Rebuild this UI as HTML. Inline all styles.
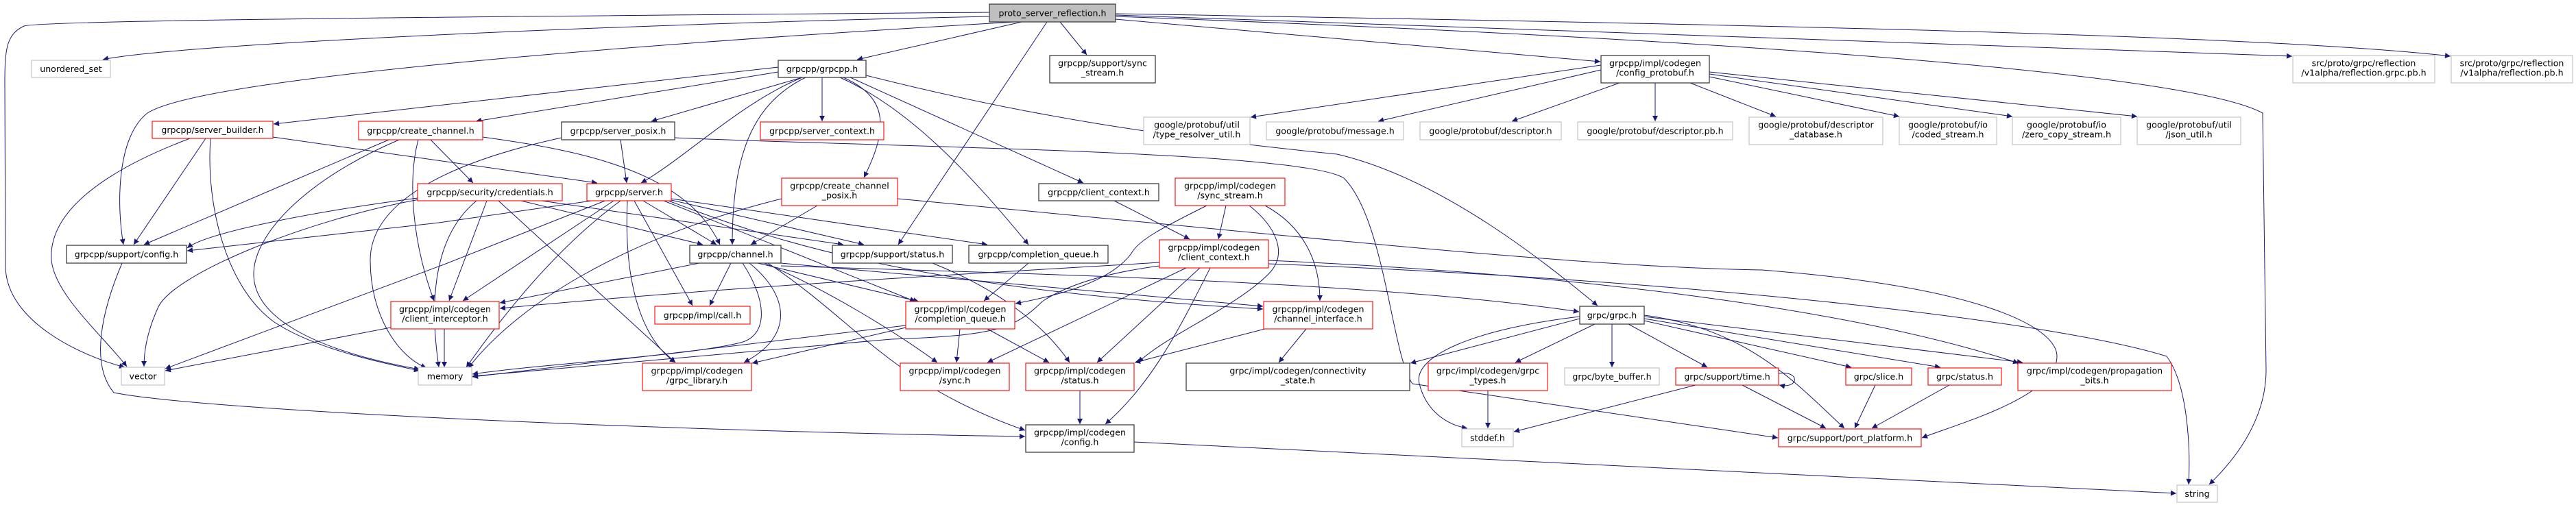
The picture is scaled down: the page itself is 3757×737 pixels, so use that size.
<!DOCTYPE html>
<html><head><meta charset="utf-8">
<style>
html,body{margin:0;padding:0;background:#fff;}
svg{display:block;}
text{font-family:"DejaVu Sans","Liberation Sans",sans-serif;font-size:12.6px;fill:#000;text-anchor:middle;}
.d{fill:#fff;stroke:#404040;stroke-width:1.3;}
.r{fill:#fff;stroke:#ff0000;stroke-width:1.1;}
.g{fill:#fff;stroke:#bfbfbf;stroke-width:1.1;}
.p{fill:#bfbfbf;stroke:#404040;stroke-width:1.3;}
.e path{fill:none;stroke:#191970;stroke-width:1;marker-end:url(#a);}
</style></head><body>
<svg width="3757" height="737" viewBox="0 0 3757 737" xmlns="http://www.w3.org/2000/svg">
<defs><marker id="a" viewBox="0 0 10 10" refX="10" refY="5" markerWidth="10" markerHeight="8" markerUnits="userSpaceOnUse" orient="auto"><path d="M0,0 L10,5 L0,10 z" fill="#191970"/></marker></defs>
<g class="e">
<path d="M1443,18 C600,25 60,30 35,38 C10,50 7,70 7,120 L8,390 C10,470 120,520 182,536"/>
<path d="M1443,24 C900,35 250,65 150,87"/>
<path d="M1480,32 C1000,60 300,110 215,165 C170,200 170,300 180,357"/>
<path d="M1490,32 L1250,87"/>
<path d="M1527,32 L1310,357"/>
<path d="M1546,32 L1585,80"/>
<path d="M1627,28 L2334,90"/>
<path d="M1627,22 L3343,82"/>
<path d="M1627,20 C2500,35 3300,50 3574,82"/>
<path d="M1627,24 C2600,60 3200,110 3300,165 L3305,540 C3305,620 3250,680 3222,707"/>
<path d="M1135,98 L399,181"/>
<path d="M1135,105 L694,177"/>
<path d="M1170,113 L950,177"/>
<path d="M1170,113 C1080,150 1000,230 935,267"/>
<path d="M1175,113 C1100,150 1068,220 1068,357"/>
<path d="M1199,113 L1199,177"/>
<path d="M1230,113 C1290,140 1300,180 1260,259"/>
<path d="M1240,113 L1580,267"/>
<path d="M1225,113 C1330,160 1420,260 1500,357"/>
<path d="M1263,110 C1500,170 1700,200 1950,225 C2100,260 2250,380 2330,446"/>
<path d="M300,202 L195,357"/>
<path d="M277,202 C150,250 70,310 75,380 C80,430 150,490 185,535"/>
<path d="M307,202 C300,300 330,420 400,470 C460,510 560,530 612,541"/>
<path d="M398,200 L871,267"/>
<path d="M567,204 L210,357"/>
<path d="M582,204 C450,260 370,340 370,400 C370,460 450,510 612,539"/>
<path d="M610,204 C595,260 600,350 633,439"/>
<path d="M628,204 L690,267"/>
<path d="M704,200 C850,220 1000,250 1050,357"/>
<path d="M905,204 L914,267"/>
<path d="M819,201 C640,240 540,300 540,380 C540,460 580,520 622,537"/>
<path d="M984,201 C1300,215 1900,220 1960,260 C2020,320 2030,520 2060,560 L2593,639"/>
<path d="M609,289 C450,310 300,340 273,362"/>
<path d="M612,291 C450,320 250,400 230,450 C212,490 210,520 210,535"/>
<path d="M710,293 L655,439"/>
<path d="M695,293 C650,330 620,400 640,536"/>
<path d="M727,293 L985,529"/>
<path d="M760,293 L1025,357"/>
<path d="M790,293 L1230,357"/>
<path d="M870,292 L640,325 L273,366"/>
<path d="M885,292 L650,385 L241,538"/>
<path d="M895,293 L675,439"/>
<path d="M905,293 C800,370 720,480 680,536"/>
<path d="M915,293 C910,400 930,490 985,529"/>
<path d="M925,293 L1010,446"/>
<path d="M938,293 L1045,357"/>
<path d="M968,293 L1335,440"/>
<path d="M979,292 L1260,357"/>
<path d="M979,290 L1440,357"/>
<path d="M975,293 C1100,340 1300,420 1842,451"/>
<path d="M1020,384 L729,442"/>
<path d="M1066,384 L1035,446"/>
<path d="M1083,384 C1120,440 1120,490 1080,500 C1000,520 800,530 689,546"/>
<path d="M1093,384 C1150,430 1160,490 1085,529"/>
<path d="M1105,384 L1340,440"/>
<path d="M1115,384 C1200,420 1300,480 1367,529"/>
<path d="M1120,384 C1250,470 1300,560 1495,628"/>
<path d="M1139,388 C1500,400 2000,410 2303,455"/>
<path d="M1139,384 L1842,447"/>
<path d="M1192,300 L1095,357"/>
<path d="M1140,290 C900,350 750,450 683,537"/>
<path d="M1309,290 C1900,345 2300,390 2570,394 C2900,420 3000,480 3000,520 C3000,580 2850,620 2803,639"/>
<path d="M1360,384 C1450,420 1520,470 1560,529"/>
<path d="M1500,384 L1435,439"/>
<path d="M1625,293 L1735,349"/>
<path d="M1788,300 L1777,349"/>
<path d="M1760,300 C1700,330 1660,350 1650,370 C1620,410 1550,430 1481,443"/>
<path d="M1822,300 C1860,330 1880,370 1850,400 C1800,450 1700,490 1660,529"/>
<path d="M1845,300 C1900,330 1925,380 1925,439"/>
<path d="M1691,383 C1500,395 1100,415 729,450"/>
<path d="M1691,388 C1600,400 1550,420 1520,440 C1480,480 1450,490 1300,495 L689,549"/>
<path d="M1730,391 L1440,529"/>
<path d="M1750,391 L1600,529"/>
<path d="M1765,391 C1720,480 1680,560 1612,619"/>
<path d="M1850,380 C2300,400 2700,450 2944,530"/>
<path d="M1850,385 C2500,410 3000,470 3160,520 C3190,560 3195,650 3192,707"/>
<path d="M1321,475 L689,550"/>
<path d="M1400,480 L1395,529"/>
<path d="M1440,480 L1530,529"/>
<path d="M1321,478 L1097,530"/>
<path d="M1845,480 L1655,529"/>
<path d="M1905,480 L1865,529"/>
<path d="M1575,570 L1575,619"/>
<path d="M1654,645 L3174,720"/>
<path d="M178,384 C150,450 130,530 166,573 C300,600 1000,630 1495,637"/>
<path d="M648,480 L648,536"/>
<path d="M570,478 L241,541"/>
<path d="M2304,465 L2057,530"/>
<path d="M2304,462 C2150,480 2060,520 2070,560 C2080,600 2110,620 2140,625"/>
<path d="M2326,473 L2210,529"/>
<path d="M2351,473 L2351,536"/>
<path d="M2375,473 L2490,536"/>
<path d="M2398,468 L2700,536"/>
<path d="M2398,465 L2830,536"/>
<path d="M2398,462 L2950,529"/>
<path d="M2398,460 C2550,480 2620,560 2690,625"/>
<path d="M2170,570 L2170,625"/>
<path d="M2473,562 L2208,630"/>
<path d="M2541,562 L2663,625"/>
<path d="M2594,545 C2625,540 2625,568 2595,562"/>
<path d="M2735,562 L2705,625"/>
<path d="M2843,562 L2730,625"/>
<path d="M2335,95 L1824,171"/>
<path d="M2335,102 L2010,177"/>
<path d="M2362,121 L2205,177"/>
<path d="M2414,121 L2414,177"/>
<path d="M2465,121 L2590,170"/>
<path d="M2493,112 L2770,170"/>
<path d="M2493,108 L2935,170"/>
<path d="M2493,105 L3117,170"/>
</g>
<!-- nodes -->
<rect class="p" x="1443" y="6" width="184" height="26"/><text x="1535" y="23.5">proto_server_reflection.h</text>
<rect class="g" x="46" y="88" width="115" height="25"/><text x="103.5" y="105">unordered_set</text>
<rect class="r" x="222" y="177" width="176" height="25"/><text x="310" y="194">grpcpp/server_builder.h</text>
<rect class="r" x="523" y="177" width="181" height="27"/><text x="613.5" y="195">grpcpp/create_channel.h</text>
<rect class="d" x="97" y="358" width="175" height="26"/><text x="184.5" y="375.5">grpcpp/support/config.h</text>
<rect class="g" x="177" y="536" width="63" height="26"/><text x="208.5" y="553.5">vector</text>
<rect class="g" x="610" y="536" width="78" height="26"/><text x="649" y="553.5">memory</text>
<rect class="r" x="570" y="440" width="158" height="40"/><text x="649" y="455.5">grpcpp/impl/codegen</text><text x="649" y="469.5">/client_interceptor.h</text>
<rect class="r" x="609" y="268" width="211" height="25"/><text x="714.5" y="285">grpcpp/security/credentials.h</text>
<rect class="d" x="1135" y="88" width="128" height="25"/><text x="1199" y="105">grpcpp/grpcpp.h</text>
<rect class="d" x="819" y="178" width="165" height="26"/><text x="901.5" y="195.5">grpcpp/server_posix.h</text>
<rect class="r" x="1109" y="178" width="180" height="26"/><text x="1199" y="195.5">grpcpp/server_context.h</text>
<rect class="r" x="856" y="268" width="123" height="25"/><text x="917.5" y="285">grpcpp/server.h</text>
<rect class="r" x="1140" y="260" width="169" height="40"/><text x="1224.5" y="275.5">grpcpp/create_channel</text><text x="1224.5" y="289.5">_posix.h</text>
<rect class="d" x="1006" y="358" width="133" height="26"/><text x="1072.5" y="375.5">grpcpp/channel.h</text>
<rect class="d" x="1214" y="358" width="175" height="26"/><text x="1301.5" y="375.5">grpcpp/support/status.h</text>
<rect class="r" x="955" y="447" width="139" height="26"/><text x="1024.5" y="464.5">grpcpp/impl/call.h</text>
<rect class="r" x="937" y="530" width="159" height="40"/><text x="1016.5" y="545.5">grpcpp/impl/codegen</text><text x="1016.5" y="559.5">/grpc_library.h</text>
<rect class="d" x="1531" y="81" width="154" height="40"/><text x="1608" y="96.5">grpcpp/support/sync</text><text x="1608" y="110.5">_stream.h</text>
<rect class="g" x="1668" y="171" width="155" height="40"/><text x="1745.5" y="186.5">google/protobuf/util</text><text x="1745.5" y="200.5">/type_resolver_util.h</text>
<rect class="g" x="1847" y="178" width="200" height="26"/><text x="1947" y="195.5">google/protobuf/message.h</text>
<rect class="d" x="1515" y="268" width="175" height="25"/><text x="1602.5" y="285">grpcpp/client_context.h</text>
<rect class="r" x="1714" y="260" width="160" height="40"/><text x="1794" y="275.5">grpcpp/impl/codegen</text><text x="1794" y="289.5">/sync_stream.h</text>
<rect class="d" x="1413" y="358" width="203" height="26"/><text x="1514.5" y="375.5">grpcpp/completion_queue.h</text>
<rect class="r" x="1691" y="350" width="159" height="41"/><text x="1770.5" y="365.5">grpcpp/impl/codegen</text><text x="1770.5" y="379.5">/client_context.h</text>
<rect class="r" x="1321" y="440" width="159" height="40"/><text x="1400.5" y="455.5">grpcpp/impl/codegen</text><text x="1400.5" y="469.5">/completion_queue.h</text>
<rect class="r" x="1843" y="440" width="159" height="40"/><text x="1922.5" y="455.5">grpcpp/impl/codegen</text><text x="1922.5" y="469.5">/channel_interface.h</text>
<rect class="r" x="1313" y="530" width="159" height="40"/><text x="1392.5" y="545.5">grpcpp/impl/codegen</text><text x="1392.5" y="559.5">/sync.h</text>
<rect class="r" x="1496" y="530" width="158" height="40"/><text x="1575" y="545.5">grpcpp/impl/codegen</text><text x="1575" y="559.5">/status.h</text>
<rect class="d" x="1730" y="530" width="326" height="40"/><text x="1893" y="545.5">grpc/impl/codegen/connectivity</text><text x="1893" y="559.5">_state.h</text>
<rect class="d" x="1496" y="620" width="158" height="40"/><text x="1575" y="635.5">grpcpp/impl/codegen</text><text x="1575" y="649.5">/config.h</text>
<rect class="d" x="2335" y="81" width="158" height="40"/><text x="2414" y="96.5">grpcpp/impl/codegen</text><text x="2414" y="110.5">/config_protobuf.h</text>
<rect class="g" x="2071" y="178" width="206" height="26"/><text x="2174" y="195.5">google/protobuf/descriptor.h</text>
<rect class="g" x="2301" y="178" width="226" height="26"/><text x="2414" y="195.5">google/protobuf/descriptor.pb.h</text>
<rect class="g" x="2551" y="171" width="195" height="40"/><text x="2648.5" y="186.5">google/protobuf/descriptor</text><text x="2648.5" y="200.5">_database.h</text>
<rect class="g" x="2770" y="171" width="142" height="40"/><text x="2841" y="186.5">google/protobuf/io</text><text x="2841" y="200.5">/coded_stream.h</text>
<rect class="g" x="2935" y="171" width="158" height="40"/><text x="3014" y="186.5">google/protobuf/io</text><text x="3014" y="200.5">/zero_copy_stream.h</text>
<rect class="g" x="3117" y="171" width="151" height="40"/><text x="3192.5" y="186.5">google/protobuf/util</text><text x="3192.5" y="200.5">/json_util.h</text>
<rect class="d" x="2304" y="447" width="94" height="26"/><text x="2351" y="464.5">grpc/grpc.h</text>
<rect class="r" x="2083" y="530" width="174" height="40"/><text x="2170" y="545.5">grpc/impl/codegen/grpc</text><text x="2170" y="559.5">_types.h</text>
<rect class="g" x="2282" y="537" width="138" height="25"/><text x="2351" y="554">grpc/byte_buffer.h</text>
<rect class="r" x="2444" y="537" width="150" height="25"/><text x="2519" y="554">grpc/support/time.h</text>
<rect class="g" x="2132" y="626" width="75" height="26"/><text x="2169.5" y="643.5">stddef.h</text>
<rect class="r" x="2692" y="537" width="96" height="25"/><text x="2740" y="554">grpc/slice.h</text>
<rect class="r" x="2812" y="537" width="107" height="25"/><text x="2865.5" y="554">grpc/status.h</text>
<rect class="r" x="2943" y="530" width="224" height="40"/><text x="3055" y="545.5">grpc/impl/codegen/propagation</text><text x="3055" y="559.5">_bits.h</text>
<rect class="r" x="2594" y="626" width="208" height="26"/><text x="2698" y="643.5">grpc/support/port_platform.h</text>
<rect class="g" x="3175" y="708" width="59" height="25"/><text x="3204.5" y="725">string</text>
<rect class="g" x="3344" y="81" width="207" height="40"/><text x="3447.5" y="96.5">src/proto/grpc/reflection</text><text x="3447.5" y="110.5">/v1alpha/reflection.grpc.pb.h</text>
<rect class="g" x="3575" y="81" width="177" height="40"/><text x="3663.5" y="96.5">src/proto/grpc/reflection</text><text x="3663.5" y="110.5">/v1alpha/reflection.pb.h</text>
</svg>
</body></html>
